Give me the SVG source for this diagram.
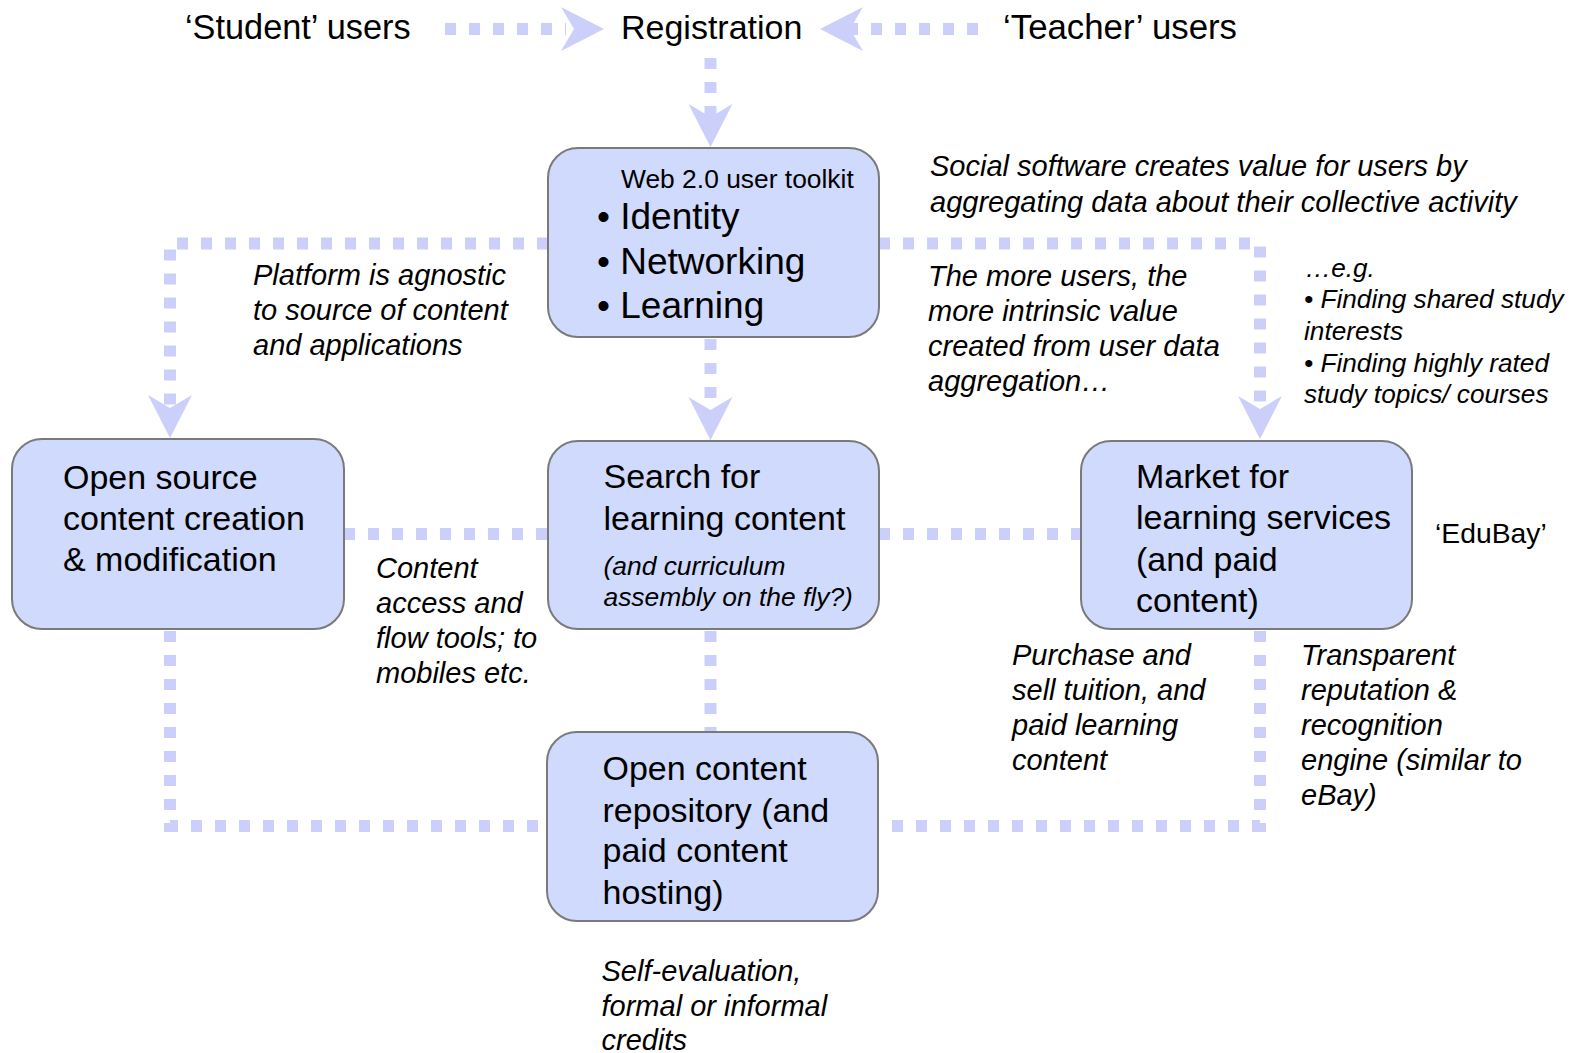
<svg xmlns="http://www.w3.org/2000/svg" width="1585" height="1053" viewBox="0 0 1585 1053">
<style>
text{font-family:"Liberation Sans",Arial,sans-serif;fill:#000}
.lbl{font-size:34px}
.it{font-size:29px;font-style:italic}
.sm{font-size:26.2px;font-style:italic}
.box{fill:#cfdafc;stroke:#7a7a7a;stroke-width:2}
.dot{fill:none;stroke:#cbcffa;stroke-width:12;stroke-dasharray:11 13}
.ah{fill:#cbcffa}
</style>
<defs>
<path id="arr" d="M0,0 L-22,-43 L0,-30 L22,-43 Z"/>
</defs>
<rect width="1585" height="1053" fill="#fff"/>
<g id="connectors">
<path class="dot" d="M445,29 H566"/>
<path class="dot" d="M978,29 H832"/>
<path class="dot" d="M710.5,58 V120"/>
<path class="dot" d="M548,243.5 H170 V410"/>
<path class="dot" d="M879,243.5 H1260 V410"/>
<path class="dot" d="M710.5,339 V412"/>
<path class="dot" d="M344,534 H548"/>
<path class="dot" d="M879,534 H1081"/>
<path class="dot" d="M710.5,631 V732"/>
<path class="dot" d="M170,631 V826 H547"/>
<path class="dot" d="M1260,631 V826 H878"/>
<use href="#arr" class="ah" transform="translate(604,29) rotate(-90)"/>
<use href="#arr" class="ah" transform="translate(820,29) rotate(90)"/>
<use href="#arr" class="ah" transform="translate(710.5,147)"/>
<use href="#arr" class="ah" transform="translate(170,438)"/>
<use href="#arr" class="ah" transform="translate(1260,439)"/>
<use href="#arr" class="ah" transform="translate(710.5,440)"/>
</g>
<g id="student"><text x="185" y="38.5" font-size="34.3">‘Student’ users</text></g>
<g id="registration"><text class="lbl" x="621" y="38.5">Registration</text></g>
<g id="teacher"><text x="1003" y="38.5" font-size="34.8">‘Teacher’ users</text></g>
<g id="toolkit">
<rect class="box" x="548" y="148" width="331" height="189" rx="30"/>
<text x="621" y="188" font-size="26.4">Web 2.0 user toolkit</text>
<text x="597" y="229" font-size="37">• Identity</text>
<text x="597" y="274" font-size="37">• Networking</text>
<text x="597" y="318" font-size="37">• Learning</text>
</g>
<g id="opensource">
<rect class="box" x="12" y="439" width="332" height="190" rx="30"/>
<text class="lbl" x="63" y="489">Open source</text>
<text class="lbl" x="63" y="530">content creation</text>
<text class="lbl" x="63" y="571">&amp; modification</text>
</g>
<g id="search">
<rect class="box" x="548" y="441" width="331" height="188" rx="30"/>
<text class="lbl" x="603.5" y="488">Search for</text>
<text class="lbl" x="603.5" y="529.5">learning content</text>
<text x="603.5" y="575" font-size="26.4" font-style="italic">(and curriculum</text>
<text x="603.5" y="606" font-size="26.4" font-style="italic">assembly on the fly?)</text>
</g>
<g id="market">
<rect class="box" x="1081" y="441" width="331" height="188" rx="30"/>
<text class="lbl" x="1136" y="488">Market for</text>
<text class="lbl" x="1136" y="529">learning services</text>
<text class="lbl" x="1136" y="571">(and paid</text>
<text class="lbl" x="1136" y="612">content)</text>
</g>
<g id="repository">
<rect class="box" x="547" y="732" width="331" height="189" rx="30"/>
<text class="lbl" x="602.5" y="780">Open content</text>
<text class="lbl" x="602.5" y="821.5">repository (and</text>
<text class="lbl" x="602.5" y="862">paid content</text>
<text class="lbl" x="602.5" y="903.5">hosting)</text>
</g>
<g id="annotations">
<text class="it" x="930" y="176">Social software creates value for users by</text>
<text class="it" x="930" y="212">aggregating data about their collective activity</text>
<text class="it" x="253" y="285">Platform is agnostic</text>
<text class="it" x="253" y="320">to source of content</text>
<text class="it" x="253" y="355">and applications</text>
<text class="it" x="928" y="286">The more users, the</text>
<text class="it" x="928" y="321">more intrinsic value</text>
<text class="it" x="928" y="356">created from user data</text>
<text class="it" x="928" y="391">aggregation…</text>
<text class="sm" x="1305" y="277">…e.g.</text>
<text class="sm" x="1304" y="308">• Finding shared study</text>
<text class="sm" x="1304" y="339.5">interests</text>
<text class="sm" x="1304" y="372">• Finding highly rated</text>
<text class="sm" x="1304" y="403">study topics/ courses</text>
<text x="1435" y="543" font-size="28.3">‘EduBay’</text>
<text class="it" x="376" y="578">Content</text>
<text class="it" x="376" y="613">access and</text>
<text class="it" x="376" y="648">flow tools; to</text>
<text class="it" x="376" y="683">mobiles etc.</text>
<text class="it" x="1012" y="665">Purchase and</text>
<text class="it" x="1012" y="700">sell tuition, and</text>
<text class="it" x="1012" y="735">paid learning</text>
<text class="it" x="1012" y="770">content</text>
<text class="it" x="1301" y="665">Transparent</text>
<text class="it" x="1301" y="700">reputation &amp;</text>
<text class="it" x="1301" y="735">recognition</text>
<text class="it" x="1301" y="770">engine (similar to</text>
<text class="it" x="1301" y="805">eBay)</text>
<text class="it" x="601.5" y="981">Self-evaluation,</text>
<text class="it" x="601.5" y="1016">formal or informal</text>
<text class="it" x="601.5" y="1050">credits</text>
</g>
</svg>
